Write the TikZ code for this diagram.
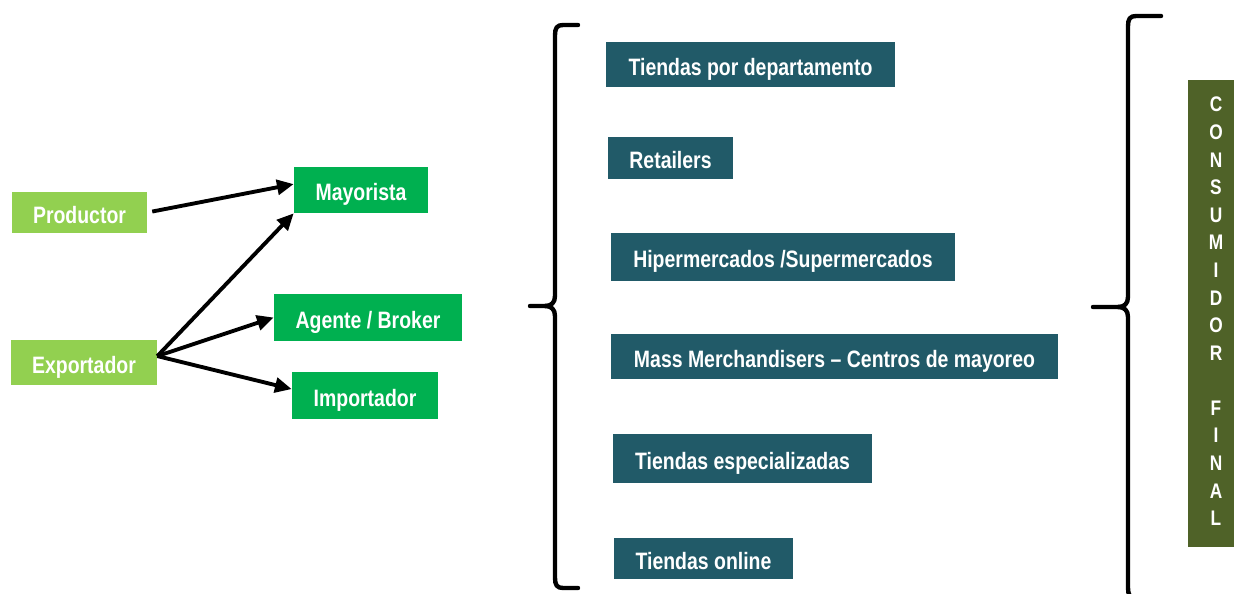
\documentclass[tikz,border=0pt]{standalone}
\usepackage{fontspec}
\setmainfont{Liberation Sans}[FakeStretch=0.82]
\usepackage{tikz}
\usetikzlibrary{arrows.meta}
\definecolor{verdeclaro}{HTML}{92D050}
\definecolor{verde}{HTML}{00B050}
\definecolor{azulpetroleo}{HTML}{215A68}
\definecolor{oliva}{HTML}{4F6228}

\begin{document}
\begin{tikzpicture}[x=0.02cm,y=-0.02cm, % one unit = one pixel of the page
  caja/.style={rectangle,inner xsep=0pt,inner ysep=0pt,text=white,
    font=\bfseries\fontsize{13.5}{16}\selectfont,text height=12pt,text depth=0pt},
  origen/.style={caja,fill=verdeclaro},
  canal/.style={caja,fill=verde},
  tienda/.style={caja,fill=azulpetroleo},
  flecha/.style={line width=2.2pt,-{Triangle[length=9.5pt,width=8.5pt]}},
  llave/.style={line width=2.5pt,line cap=round,line join=round}]
\useasboundingbox (0,0) rectangle (1234,594);
%origin of the product
\node[origen,minimum width=2.70cm,minimum height=0.82cm] (prod) at (79.5,212.5) {Productor};
\node[origen,minimum width=2.92cm,minimum height=0.90cm] (exp) at (84,362.5) {Exportador};
%first buyers
\node[canal,minimum width=2.68cm,minimum height=0.92cm] (may) at (361,190) {Mayorista};
\node[canal,minimum width=3.76cm,minimum height=0.94cm] (age) at (368,317.5) {Agente / Broker};
\node[canal,minimum width=2.92cm,minimum height=0.94cm] (imp) at (365,395.5) {Importador};
%arrows
\draw[flecha,shorten <=0.1cm] (prod.east) -- (may.175);
\draw[flecha] (exp.5) -- (may.south west);
\draw[flecha] (exp.5) -- (age.west);
\draw[flecha] (exp.5) -- (imp.175);
%left brace
\draw[llave] (578,25) -- (563,25) .. controls (557,25) and (555,28) .. (555,35) -- (555,296)
  .. controls (555,303) and (551,306) .. (545,306) -- (530,306);
\draw[llave] (545,306) .. controls (551,306) and (555,309) .. (555,316) -- (555,578)
  .. controls (555,585) and (557,588) .. (563,588) -- (578,588);
%retail channels
\node[tienda,minimum width=5.78cm,minimum height=0.90cm] (t1) at (750.5,64.5) {Tiendas por departamento};
\node[tienda,minimum width=2.50cm,minimum height=0.84cm] (t2) at (670.5,158) {Retailers};
\node[tienda,minimum width=6.88cm,minimum height=0.96cm] (t3) at (783,257) {Hipermercados /Supermercados};
\node[tienda,minimum width=8.94cm,minimum height=0.90cm] (t4) at (834.5,356.5) {Mass Merchandisers -- Centros de mayoreo};
\node[tienda,minimum width=5.18cm,minimum height=0.98cm] (t5) at (742.5,458.5) {Tiendas especializadas};
\node[tienda,minimum width=3.58cm,minimum height=0.82cm] (t6) at (703.5,558.5) {Tiendas online};
%right brace
\draw[llave] (1161,16) -- (1136,16) .. controls (1130,16) and (1128,19) .. (1128,26) -- (1128,297)
  .. controls (1128,304) and (1124,307) .. (1118,307) -- (1093,307);
\draw[llave] (1118,307) .. controls (1124,307) and (1128,310) .. (1128,317) -- (1128,588)
  .. controls (1128,595) and (1130,598) .. (1136,598) -- (1161,598);
%final consumer
\node[rectangle,fill=oliva,minimum width=1.12cm,minimum height=9.34cm] (cf) at (1216,313.5) {};
\node[text=white,align=center,inner sep=0pt,font=\bfseries\fontsize{12}{15.7}\selectfont]
  (cftexto) at (1216,311.5) {C\\O\\N\\S\\U\\M\\I\\D\\O\\R\\[15.7pt]F\\I\\N\\A\\L};
\end{tikzpicture}
\end{document}
